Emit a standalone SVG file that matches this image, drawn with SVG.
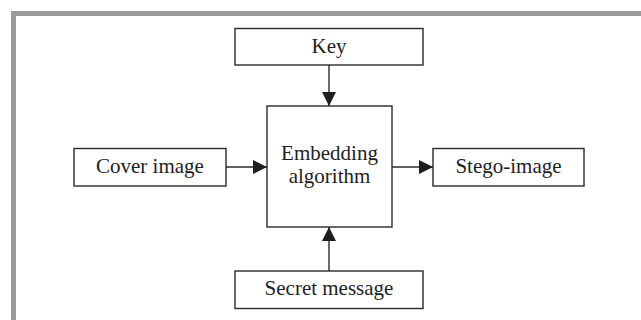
<svg xmlns="http://www.w3.org/2000/svg" width="641" height="320" viewBox="0 0 641 320">
<style>
.box{fill:#fff;stroke:#2a2a2a;stroke-width:1.4}
.lbl{font-family:"Liberation Serif","Times New Roman",serif;font-size:21px;fill:#1e1e1e;text-anchor:middle}
.con{stroke:#2a2a2a;stroke-width:1.4;fill:none}
</style>
<defs>
<marker id="ah" viewBox="0 0 10 10" refX="10" refY="5" markerWidth="14" markerHeight="14" markerUnits="userSpaceOnUse" orient="auto">
<path d="M0,0 L10,5 L0,10 Z" fill="#1e1e1e"/>
</marker>
</defs>
<rect x="0" y="0" width="641" height="320" fill="#fff"/>
<path d="M13.5,320 V13.5 H641" fill="none" stroke="#9b9b9b" stroke-width="5"/>
<g id="connectors">
<line class="con" x1="329" y1="65" x2="329" y2="106" marker-end="url(#ah)"/>
<line class="con" x1="226" y1="167" x2="267" y2="167" marker-end="url(#ah)"/>
<line class="con" x1="392" y1="167" x2="433" y2="167" marker-end="url(#ah)"/>
<line class="con" x1="329" y1="271" x2="329" y2="227" marker-end="url(#ah)"/>
</g>
<g id="key">
<rect class="box" x="235" y="28.5" width="188" height="36.5"/>
<text class="lbl" x="329" y="52.5">Key</text>
</g>
<g id="cover">
<rect class="box" x="74" y="148.5" width="152" height="37.5"/>
<text class="lbl" x="150" y="172.5">Cover image</text>
</g>
<g id="embedding">
<rect class="box" x="267" y="106" width="125" height="121"/>
<text class="lbl" x="329.5" y="160">Embedding</text>
<text class="lbl" x="329.5" y="183">algorithm</text>
</g>
<g id="stego">
<rect class="box" x="433" y="148.5" width="151" height="37.5"/>
<text class="lbl" x="508.5" y="172.5">Stego-image</text>
</g>
<g id="secret">
<rect class="box" x="235" y="271" width="188" height="37.5"/>
<text class="lbl" x="329" y="294.5">Secret message</text>
</g>
</svg>
